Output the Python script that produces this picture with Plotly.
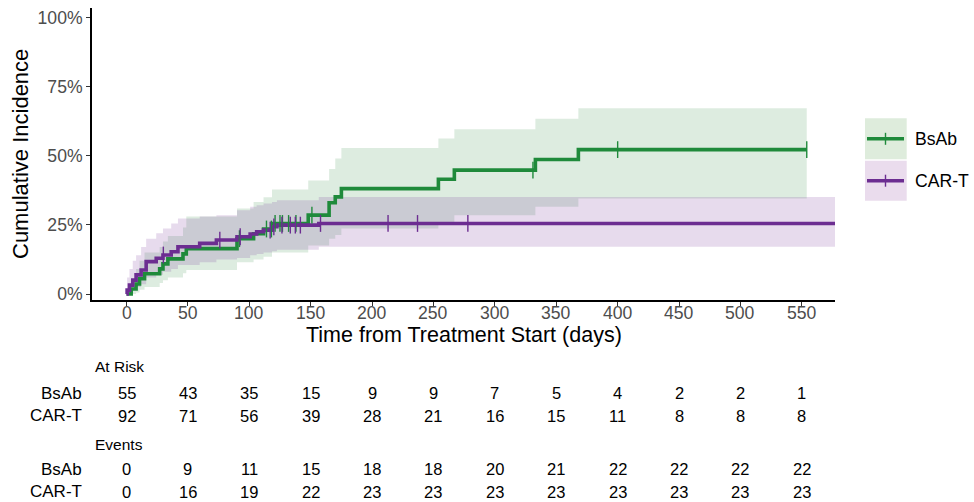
import numpy as np
import plotly.graph_objects as go

# ---------------- data ----------------
groups = ["BsAb", "CAR-T"]

bsab_time = [0, 3.8, 7.8, 10.6, 14.7, 27, 29.7, 33.7, 46, 48.7, 90, 103.5, 111.6, 118.5,
             148, 165, 170, 175, 254, 267, 333, 368, 554]
bsab_est = [0, 0.018, 0.036, 0.055, 0.073, 0.091, 0.109, 0.127, 0.145, 0.164, 0.2, 0.218, 0.235, 0.255,
            0.285, 0.33, 0.351, 0.381, 0.415, 0.448, 0.486, 0.522, 0.522]
bsab_low = [0, 0.0, 0.005, 0.015, 0.025, 0.04, 0.05, 0.06, 0.075, 0.087, 0.115, 0.125, 0.135, 0.15,
            0.175, 0.2, 0.213, 0.237, 0.26, 0.285, 0.315, 0.345, 0.345]
bsab_high = [0, 0.05, 0.09, 0.12, 0.15, 0.17, 0.19, 0.21, 0.24, 0.28, 0.309, 0.333, 0.35, 0.378,
             0.41, 0.452, 0.49, 0.528, 0.562, 0.596, 0.634, 0.672, 0.672]
bsab_censor = [92, 114, 118, 121, 125, 127, 132, 138, 151, 331, 400, 554]

cart_time = [0, 0.5, 2.4, 5.1, 7.8, 11.9, 16, 24.2, 29.7, 36.4, 41.9, 59.6, 73.2, 90, 100.7,
             106, 111.6, 118.5, 122.5, 156.6, 620]
cart_est = [0, 0.014, 0.032, 0.05, 0.069, 0.087, 0.117, 0.129, 0.141, 0.153, 0.171, 0.183, 0.195,
            0.207, 0.217, 0.225, 0.231, 0.243, 0.249, 0.255, 0.255]
cart_low = [0, 0, 0.005, 0.015, 0.025, 0.035, 0.06, 0.07, 0.08, 0.09, 0.105, 0.115, 0.125, 0.13,
            0.14, 0.145, 0.15, 0.155, 0.16, 0.171, 0.171]
cart_high = [0, 0.06, 0.09, 0.12, 0.14, 0.17, 0.2, 0.22, 0.237, 0.255, 0.273, 0.28, 0.285, 0.303,
             0.315, 0.321, 0.327, 0.333, 0.339, 0.351, 0.351]
cart_censor = [30, 76, 92.6, 117, 120, 126.6, 133.4, 137.5, 141.6, 158, 213, 237, 278]

risk_times = [0, 50, 100, 150, 200, 250, 300, 350, 400, 450, 500, 550]
bsab_risk = [55, 43, 35, 15, 9, 9, 7, 5, 4, 2, 2, 1]
cart_risk = [92, 71, 56, 39, 28, 21, 16, 15, 11, 8, 8, 8]
bsab_events = [0, 9, 11, 15, 18, 18, 20, 21, 22, 22, 22, 22]
cart_events = [0, 16, 19, 22, 23, 23, 23, 23, 23, 23, 23, 23]

y_ticks = [0, 0.25, 0.5, 0.75, 1.0]
y_ticklabels = ["0%", "25%", "50%", "75%", "100%"]

# ---------------- styles ----------------
FONT = "Liberation Sans, Arial, Helvetica, sans-serif"
col_line = {"BsAb": "#1f8a3b", "CAR-T": "#6c2d91"}
col_fill = {"BsAb": "rgba(27,130,50,0.15)", "CAR-T": "rgba(110,42,150,0.17)"}
col_key = {"BsAb": "rgb(222,236,220)", "CAR-T": "rgb(234,220,237)"}

series = {
    "BsAb": (bsab_time, bsab_est, bsab_low, bsab_high, bsab_censor),
    "CAR-T": (cart_time, cart_est, cart_low, cart_high, cart_censor),
}

fig = go.Figure()

# confidence bands
for g in groups:
    t, e, lo, hi, cs = series[g]
    fig.add_trace(go.Scatter(x=t, y=lo, mode="lines", line=dict(width=0, shape="hv"),
                             hoverinfo="skip", showlegend=False))
    fig.add_trace(go.Scatter(x=t, y=hi, mode="lines", line=dict(width=0, shape="hv"),
                             fill="tonexty", fillcolor=col_fill[g], hoverinfo="skip",
                             showlegend=False))

# estimate lines
for g in groups:
    t, e, lo, hi, cs = series[g]
    fig.add_trace(go.Scatter(x=t, y=e, mode="lines", name=g,
                             line=dict(color=col_line[g], width=3.6, shape="hv"),
                             showlegend=False))

# censor marks
for g in groups:
    t, e, lo, hi, cs = series[g]
    ta = np.array(t)
    ea = np.array(e)
    idx = np.searchsorted(ta, np.array(cs), side="right") - 1
    fig.add_trace(go.Scatter(x=cs, y=ea[idx], mode="markers",
                             marker=dict(symbol="line-ns", size=12,
                                         line=dict(color=col_line[g], width=1.4)),
                             hoverinfo="skip", showlegend=False))

# ---------------- layout ----------------
L, R, T, B = 92, 139, 8, 202
W, H = 974, 502
PH = H - T - B
PW = W - L - R


def py(px):
    return (H - B - px) / PH


def pxx(px):
    return (px - L) / PW


tick_font = dict(size=17.6, color="#4d4d4d", family=FONT)

fig.update_layout(
    width=W, height=H,
    margin=dict(l=L, r=R, t=T, b=B),
    paper_bgcolor="white", plot_bgcolor="white",
    font=dict(family=FONT, color="black"),
    showlegend=False,
    xaxis=dict(range=[-28.1, 577], tickvals=risk_times, showticklabels=False,
               showgrid=False, zeroline=False, showline=True, linecolor="black", linewidth=1.8,
               ticks="outside", ticklen=4, tickwidth=1.2, tickcolor="#333333"),
    yaxis=dict(range=[-0.0217, 1.034], tickvals=y_ticks, ticktext=y_ticklabels,
               showgrid=False, zeroline=False, showline=True, linecolor="black", linewidth=1.8,
               ticks="outside", ticklen=4, tickwidth=1.2, tickcolor="#333333",
               tickfont=tick_font),
)

ann = []
# x tick labels
for tv in risk_times:
    ann.append(dict(text=str(tv), xref="x", yref="paper", x=tv, y=py(313),
                    xanchor="center", yanchor="middle", showarrow=False, font=tick_font))
# axis titles
ann.append(dict(text="Time from Treatment Start (days)", xref="paper", yref="paper",
                x=0.5, y=py(334.5), xanchor="center", yanchor="middle", showarrow=False,
                font=dict(size=21.5, color="black", family=FONT)))
ann.append(dict(text="Cumulative Incidence", xref="paper", yref="paper",
                x=pxx(20), y=0.5, xanchor="center", yanchor="middle", showarrow=False,
                textangle=-90, font=dict(size=22, color="black", family=FONT)))

# risk table
num_font = dict(size=16.5, color="black", family=FONT)
lab_font = dict(size=17, color="black", family=FONT)
hdr_font = dict(size=15.5, color="black", family=FONT)
rows = [
    ("At Risk", 366.7, None),
    ("BsAb", 393.3, bsab_risk),
    ("CAR-T", 415.7, cart_risk),
    ("Events", 444.3, None),
    ("BsAb", 469.3, bsab_events),
    ("CAR-T", 491.7, cart_events),
]
for label, ypx, vals in rows:
    if vals is None:
        ann.append(dict(text=label, xref="paper", yref="paper", x=pxx(92.7), y=py(ypx),
                        xanchor="left", yanchor="middle", showarrow=False, font=hdr_font))
    else:
        ann.append(dict(text=label, xref="paper", yref="paper", x=pxx(84), y=py(ypx),
                        xanchor="right", yanchor="middle", showarrow=False, font=lab_font))
        for tv, v in zip(risk_times, vals):
            ann.append(dict(text=str(v), xref="x", yref="paper", x=tv, y=py(ypx),
                            xanchor="center", yanchor="middle", showarrow=False, font=num_font))

# legend (drawn manually)
shapes = []
legend_rows = [("BsAb", 118.3, 159.3), ("CAR-T", 160.7, 200.7)]
for g, ytop, ybot in legend_rows:
    yc = (ytop + ybot) / 2
    shapes.append(dict(type="rect", xref="paper", yref="paper", x0=pxx(865), x1=pxx(906.7),
                       y0=py(ybot), y1=py(ytop), fillcolor=col_key[g], line=dict(width=0),
                       layer="below"))
    shapes.append(dict(type="line", xref="paper", yref="paper", x0=pxx(867), x1=pxx(904),
                       y0=py(yc), y1=py(yc), line=dict(color=col_line[g], width=3.6)))
    shapes.append(dict(type="line", xref="paper", yref="paper", x0=pxx(885.5), x1=pxx(885.5),
                       y0=py(yc - 6), y1=py(yc + 6), line=dict(color=col_line[g], width=1.4)))
    ann.append(dict(text=g, xref="paper", yref="paper", x=pxx(913), y=py(yc),
                    xanchor="left", yanchor="middle", showarrow=False,
                    font=dict(size=17.6, color="black", family=FONT)))

fig.update_layout(annotations=ann, shapes=shapes)

fig.write_html("out.html", config={"displayModeBar": False},
               post_script="document.body.style.margin='0';document.body.style.overflow='hidden';")
